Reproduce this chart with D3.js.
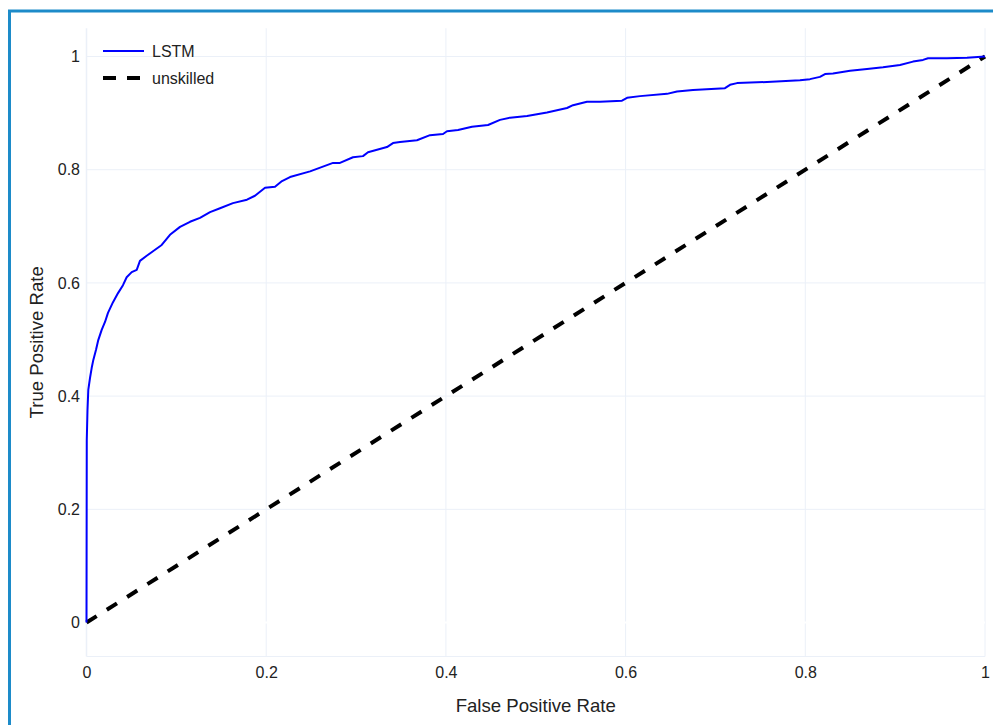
<!DOCTYPE html>
<html>
<head>
<meta charset="utf-8">
<script src="https://cdn.jsdelivr.net/npm/d3@7"></script>
<style>
  body { margin: 0; background: #fff; overflow: hidden; }
  svg text { font-family: "Liberation Sans", Arial, sans-serif; fill: #222; }
</style>
</head>
<body>
<svg id="chart"></svg>
<script>
// values
const seriesNames = ["LSTM", "unskilled"];
const lstmFpr = [0, 0.0003, 0.0011, 0.002, 0.0039, 0.0058, 0.0076, 0.0106, 0.0131, 0.0169,
  0.0206, 0.0239, 0.0295, 0.0351, 0.0406, 0.0447, 0.0503, 0.0559, 0.0595, 0.067,
  0.074, 0.0837, 0.0929, 0.1041, 0.1152, 0.1263, 0.1375, 0.1486, 0.163, 0.1786,
  0.1875, 0.1987, 0.2098, 0.2176, 0.2265, 0.2488, 0.2744, 0.2821, 0.2966, 0.3077,
  0.3133, 0.3344, 0.3411, 0.3489, 0.3678, 0.3823, 0.3968, 0.4012, 0.4135, 0.429,
  0.4469, 0.4602, 0.4714, 0.4903, 0.5125, 0.5348, 0.5415, 0.557, 0.5715, 0.596,
  0.6016, 0.616, 0.6461, 0.6572, 0.675, 0.7106, 0.7162, 0.724, 0.7574, 0.7941,
  0.8052, 0.8163, 0.8219, 0.8308, 0.8498, 0.8687, 0.8865, 0.9054, 0.9199, 0.931,
  0.9366, 0.9577, 0.98, 1];
const lstmTpr = [0, 0.322, 0.375, 0.411, 0.432, 0.45, 0.464, 0.482, 0.499, 0.517,
  0.531, 0.547, 0.566, 0.582, 0.596, 0.61, 0.619, 0.623, 0.639, 0.648,
  0.656, 0.667, 0.685, 0.699, 0.708, 0.715, 0.725, 0.732, 0.741, 0.747,
  0.754, 0.768, 0.77, 0.78, 0.787, 0.797, 0.812, 0.812, 0.822, 0.824,
  0.831, 0.84, 0.847, 0.849, 0.852, 0.861, 0.863, 0.868, 0.87, 0.876,
  0.879, 0.888, 0.892, 0.895, 0.901, 0.909, 0.914, 0.92, 0.92, 0.922,
  0.927, 0.93, 0.934, 0.938, 0.941, 0.944, 0.95, 0.953, 0.955, 0.958,
  0.96, 0.964, 0.969, 0.97, 0.975, 0.978, 0.981, 0.985, 0.991, 0.994,
  0.997, 0.997, 0.998, 1];
const unskilledFpr = [0, 1];
const unskilledTpr = [0, 1];
const xTicks = [0, 0.2, 0.4, 0.6, 0.8, 1];
const yTicks = [0, 0.2, 0.4, 0.6, 0.8, 1];
const xTitle = "False Positive Rate";
const yTitle = "True Positive Rate";

class RocChart {

  constructor(_config) {
    this.config = {
      parentElement: _config.parentElement,
      containerWidth: _config.containerWidth || 993,
      containerHeight: _config.containerHeight || 725,
      margin: { top: 28.2, bottom: 68.5, right: 8, left: 86.5 }
    }
    this.initVis();
  }

  initVis() {
    let vis = this;
    let m = vis.config.margin;

    vis.svg = d3.select(vis.config.parentElement)
      .attr('width', vis.config.containerWidth)
      .attr('height', vis.config.containerHeight);

    vis.xScale = d3.scaleLinear()
      .domain([0, 1])
      .range([m.left, vis.config.containerWidth - m.right]);

    vis.yScale = d3.scaleLinear()
      .domain([-0.06, 1.05])
      .range([vis.config.containerHeight - m.bottom, m.top]);

    vis.gridColor = '#ebf0f8';

    // grid
    vis.svg.append('g').selectAll('line')
      .data(xTicks.slice(1))
      .join('line')
        .attr('x1', d => vis.xScale(d)).attr('x2', d => vis.xScale(d))
        .attr('y1', vis.yScale.range()[1]).attr('y2', vis.yScale.range()[0])
        .attr('stroke', vis.gridColor);

    vis.svg.append('g').selectAll('line')
      .data(yTicks.slice(1))
      .join('line')
        .attr('x1', vis.xScale(0)).attr('x2', vis.xScale(1))
        .attr('y1', d => vis.yScale(d)).attr('y2', d => vis.yScale(d))
        .attr('stroke', vis.gridColor);

    // zero line drawn white, leaves small gaps in the grid
    vis.svg.append('line')
      .attr('x1', vis.xScale(0)).attr('x2', vis.xScale(1))
      .attr('y1', vis.yScale(0)).attr('y2', vis.yScale(0))
      .attr('stroke', '#fff').attr('stroke-width', 2);

    // axis lines (light)
    vis.svg.append('line')
      .attr('x1', vis.xScale(0)).attr('x2', vis.xScale(1))
      .attr('y1', vis.yScale.range()[0]).attr('y2', vis.yScale.range()[0])
      .attr('stroke', vis.gridColor);
    vis.svg.append('line')
      .attr('x1', vis.xScale(0)).attr('x2', vis.xScale(0))
      .attr('y1', vis.yScale.range()[1]).attr('y2', vis.yScale.range()[0])
      .attr('stroke', vis.gridColor).attr('stroke-width', 1.5);

    // axes
    vis.xAxisG = vis.svg.append('g')
      .attr('transform', `translate(0,${vis.yScale.range()[0]})`)
      .call(d3.axisBottom(vis.xScale).tickValues(xTicks).tickSize(0).tickPadding(10).tickFormat(d => d));
    vis.yAxisG = vis.svg.append('g')
      .attr('transform', `translate(${vis.xScale(0)},0)`)
      .call(d3.axisLeft(vis.yScale).tickValues(yTicks).tickSize(0).tickPadding(6.5).tickFormat(d => d));
    [vis.xAxisG, vis.yAxisG].forEach(g => {
      g.select('.domain').remove();
      g.attr('font-family', null).attr('font-size', null);
      g.selectAll('text').style('font-size', '16px');
    });

    // titles
    vis.svg.append('text')
      .attr('x', (vis.xScale(0) + vis.xScale(1)) / 2)
      .attr('y', 712)
      .attr('text-anchor', 'middle')
      .style('font-size', '18.6px')
      .text(xTitle);
    vis.svg.append('text')
      .attr('transform', `translate(42.5,${(vis.yScale.range()[0] + vis.yScale.range()[1]) / 2}) rotate(-90)`)
      .attr('text-anchor', 'middle')
      .style('font-size', '18.6px')
      .text(yTitle);

    // lines
    vis.line = d3.line()
      .x(d => vis.xScale(d[0]))
      .y(d => vis.yScale(d[1]));

    vis.svg.append('path')
      .datum(d3.zip(unskilledFpr, unskilledTpr))
      .attr('fill', 'none')
      .attr('stroke', '#000')
      .attr('stroke-width', 4)
      .attr('stroke-dasharray', '12,12')
      .attr('d', vis.line);

    vis.svg.append('path')
      .datum(d3.zip(lstmFpr, lstmTpr))
      .attr('fill', 'none')
      .attr('stroke', 'blue')
      .attr('stroke-width', 2)
      .attr('stroke-linejoin', 'round')
      .attr('d', vis.line);

    // legend
    let y = 51
    seriesNames.forEach(function (item, index) {
      vis.svg.append('line')
        .attr('x1', 103).attr('x2', 144)
        .attr('y1', y).attr('y2', y)
        .attr('stroke', index == 0 ? 'blue' : '#000')
        .attr('stroke-width', index == 0 ? 2 : 4)
        .attr('stroke-dasharray', index == 0 ? null : '13,11');
      vis.svg.append('text')
        .attr('x', 152)
        .attr('y', y + 6)
        .style('font-size', '16px')
        .text(item);
      y += 27
    })

    // outer frame
    vis.svg.append('rect')
      .attr('x', 9.5).attr('y', 11)
      .attr('width', 1200).attr('height', 1000)
      .attr('fill', 'none')
      .attr('stroke', '#1d8bc9')
      .attr('stroke-width', 3);
  }
}

new RocChart({ parentElement: '#chart' });
</script>
</body>
</html>
